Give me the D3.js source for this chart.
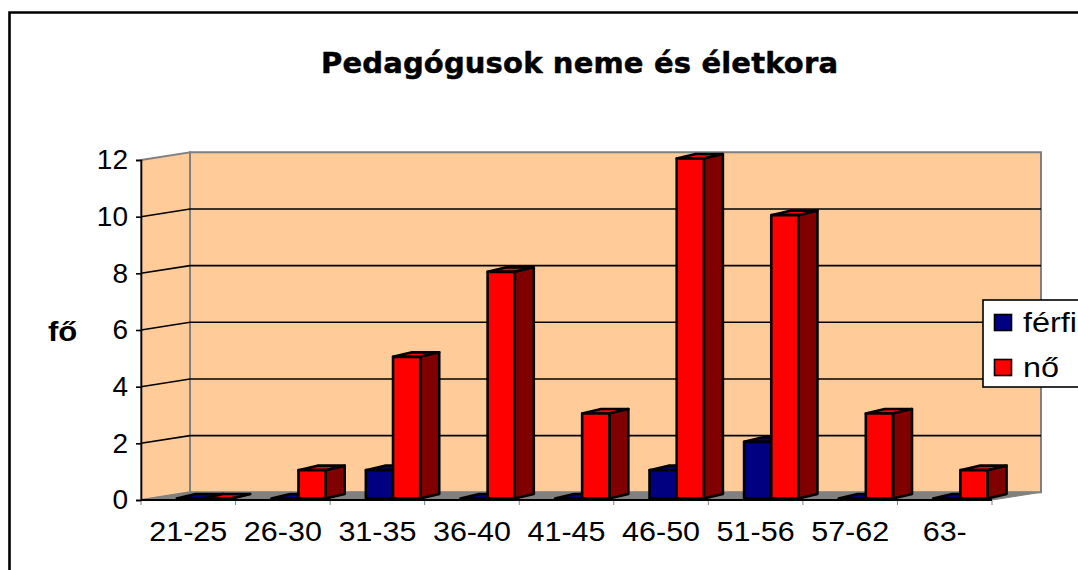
<!DOCTYPE html>
<html><head><meta charset="utf-8">
<style>html,body{margin:0;padding:0;background:#fff;overflow:hidden}svg{display:block}
text{font-family:"Liberation Sans",Arial,sans-serif;fill:#000}</style>
<script src="https://cdn.jsdelivr.net/npm/d3@7"></script></head><body>
<script>
const categories=["21-25","26-30","31-35","36-40","41-45","46-50","51-56","57-62","63-"];
const seriesNames=["férfi","nő"];
const ferfi=[0,0,1,0,0,1,2,0,0];
const no=[0,1,5,8,3,12,10,3,1];
const yTicks=[0,2,4,6,8,10,12];
const colors=["#000080","#ff0000"];
const sideColors=["#000040","#800000"];

const W=1078,H=570;
const svg=d3.select("body").append("svg").attr("width",W).attr("height",H);
const plotLeft=141,plotRight=992,plotBase=500,plotTop=160,wallDx=49,wallDy=-7.7,barDx=19,barDy=-4.5,barLift=1.5;
const x=d3.scaleBand().domain(categories).range([plotLeft,plotRight]);
const y=d3.scaleLinear().domain([0,12]).range([plotBase,plotTop]);
const inner=d3.scaleBand().domain(seriesNames).range([x.step()*0.378,x.step()*0.953]);

svg.append("path").attr("d","M9.5,570V12.5H1078").attr("fill","none").attr("stroke","#000").attr("stroke-width",2.6);

const poly=p=>"M"+p.map(d=>d.join(",")).join("L")+"Z";
const wallR=plotRight+wallDx,wallL=plotLeft+wallDx;
// walls
svg.append("path").attr("d",poly([[wallL,y(12)+wallDy],[wallR,y(12)+wallDy],[wallR,y(0)+wallDy],[wallL,y(0)+wallDy]]))
  .attr("fill","#ffcc99").attr("stroke","#808080").attr("stroke-width",2);
svg.append("path").attr("d",poly([[plotLeft,y(12)],[wallL,y(12)+wallDy],[wallL,y(0)+wallDy],[plotLeft,y(0)]]))
  .attr("fill","#ffcc99").attr("stroke","#808080").attr("stroke-width",2);
svg.append("path").attr("d",poly([[plotLeft,y(0)],[wallL,y(0)+wallDy],[wallR,y(0)+wallDy],[plotRight,y(0)]]))
  .attr("fill","#808080").attr("stroke","#808080");
// gridlines
svg.append("g").selectAll("path").data(yTicks.filter(d=>d>0&&d<12)).join("path")
  .attr("d",d=>`M${plotLeft},${y(d)}L${wallL},${y(d)+wallDy}H${wallR}`)
  .attr("fill","none").attr("stroke","#000").attr("stroke-width",1.6);

// y axis
const ya=svg.append("g").attr("transform",`translate(${plotLeft},0)`)
  .call(d3.axisLeft(y).tickValues(yTicks).tickSize(5).tickPadding(8).tickFormat(d3.format("d")));
ya.select(".domain").attr("stroke","#000").attr("stroke-width",1.6);
ya.selectAll(".tick line").attr("stroke","#000").attr("stroke-width",1.6);
ya.selectAll("text").attr("font-size",28).attr("font-family","Liberation Sans").attr("fill","#000");

// x axis
svg.append("line").attr("x1",plotLeft).attr("x2",plotRight).attr("y1",plotBase).attr("y2",plotBase).attr("stroke","#000").attr("stroke-width",2);
svg.append("g").selectAll("line").data(categories.concat("end")).join("line")
  .attr("x1",(d,i)=>plotLeft+i*x.step()).attr("x2",(d,i)=>plotLeft+i*x.step()).attr("y1",plotBase+1).attr("y2",plotBase+5)
  .attr("stroke","#808080").attr("stroke-width",1);
const xa=svg.append("g").attr("transform",`translate(0,${plotBase})`)
  .call(d3.axisBottom(x).tickSize(0).tickPadding(20));
xa.select(".domain").remove();
xa.selectAll("text").attr("font-size",28).attr("font-family","Liberation Sans").attr("fill","#000")
  .attr("y",0).attr("dy",0)
  .each(function(d){const t=d3.select(this);t.attr("transform","translate(0,41) scale(1.09,1)");});

// bars
const vals=[ferfi,no];
categories.forEach((c,i)=>{
  seriesNames.forEach((s,k)=>{
    const g=svg.append("g").attr("stroke","#000").attr("stroke-width",2.6).attr("stroke-linejoin","round");
    const x0=x(c)+inner(s),x1=x0+inner.bandwidth();
    const yb=y(0)-barLift,yt=y(vals[k][i])-barLift;
    g.append("path").attr("d",poly([[x0,yt],[x0+barDx,yt+barDy],[x1+barDx,yt+barDy],[x1,yt]])).attr("fill",colors[k]);
    g.append("path").attr("d",poly([[x1,yt],[x1+barDx,yt+barDy],[x1+barDx,yb+barDy],[x1,yb]])).attr("fill",sideColors[k]);
    if(vals[k][i]>0) g.append("rect").attr("x",x0).attr("y",yt).attr("width",x1-x0).attr("height",yb-yt).attr("fill",colors[k]);
  });
});

// title
svg.append("text").attr("x",579.5).attr("y",73).attr("text-anchor","middle")
  .attr("font-size",29).attr("font-weight","bold").attr("textLength",517).attr("lengthAdjust","spacing")
  .attr("stroke","#000").attr("stroke-width",0.5).attr("stroke-linejoin","round")
  .style("font-family","'DejaVu Sans',sans-serif").text("Pedagógusok neme és életkora");
// y title
svg.append("text").attr("font-size",27).attr("font-weight","bold").attr("transform","translate(48,341) scale(1.15,1)").text("fő");

// legend
const lg=svg.append("g");
lg.append("rect").attr("x",983).attr("y",300).attr("width",110).attr("height",87).attr("fill","#fff").attr("stroke","#000").attr("stroke-width",1.6);
const ly=d3.scalePoint().domain(seriesNames).range([323,368]);
seriesNames.forEach((s,k)=>{
  lg.append("rect").attr("x",994.5).attr("y",ly(s)-8.5).attr("width",17).attr("height",16).attr("fill",colors[k]).attr("stroke","#000").attr("stroke-width",1.6);
  lg.append("text").attr("font-size",27).attr("transform",`translate(1023,${ly(s)+9}) scale(1.2,1)`).text(s);
});
</script></body></html>
